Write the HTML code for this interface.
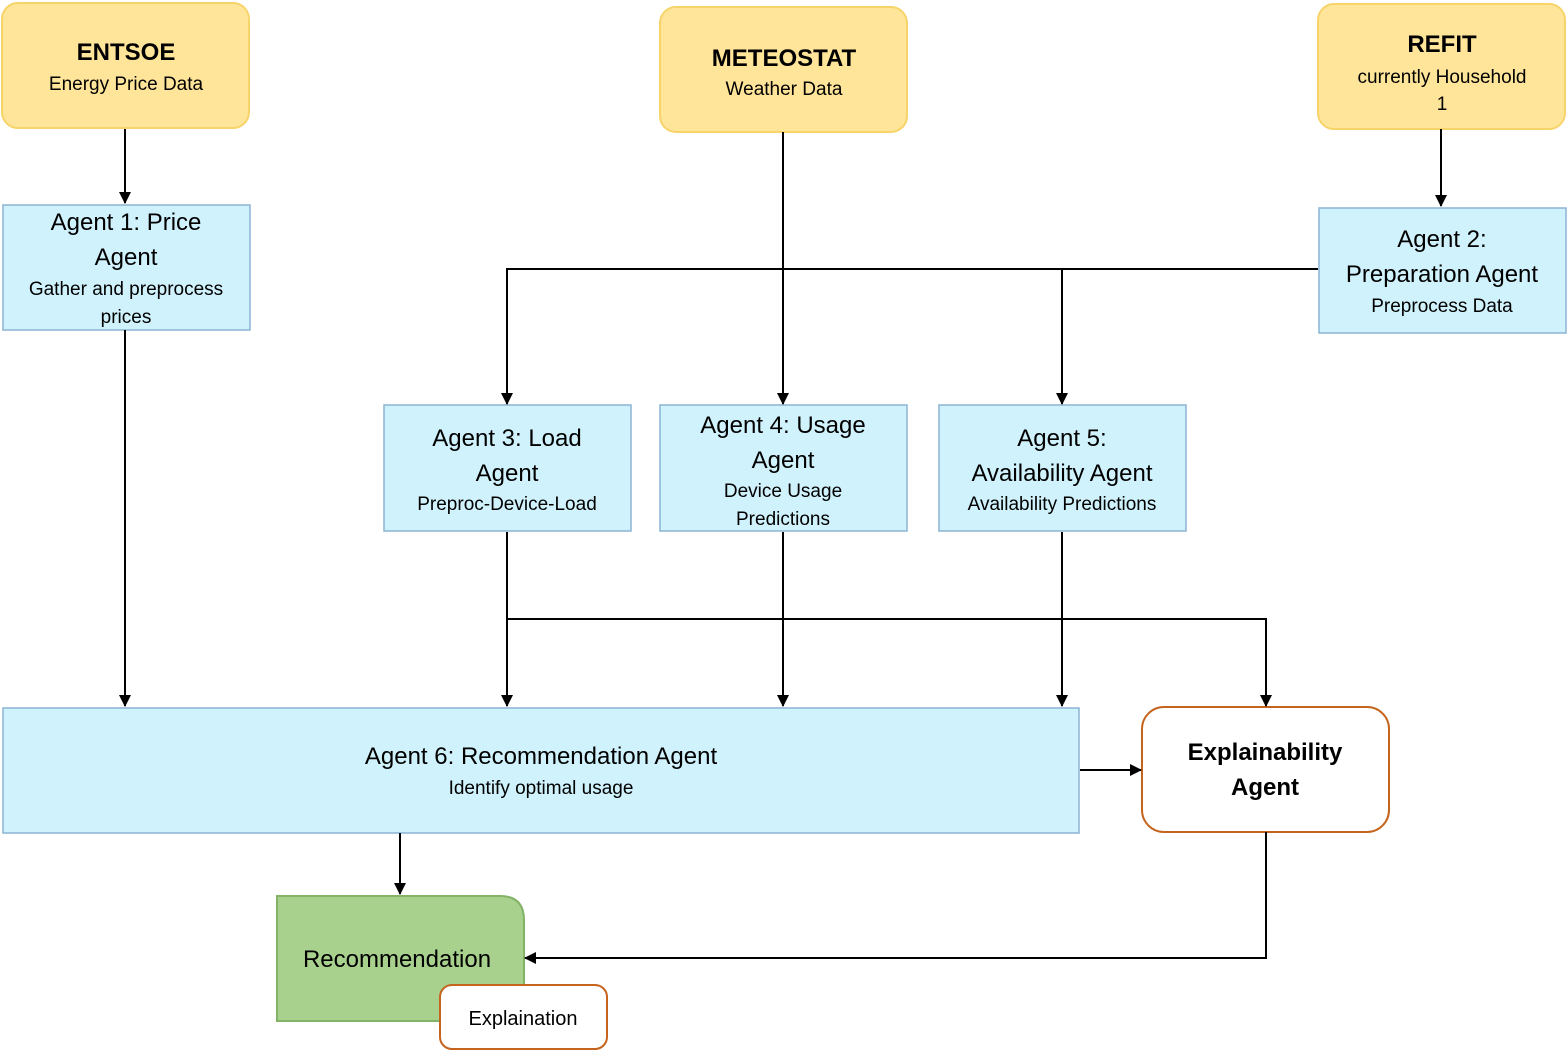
<!DOCTYPE html>
<html><head><meta charset="utf-8"><style>
html,body{margin:0;padding:0;background:#fff;}
svg{display:block;}
text{font-family:"Liberation Sans",sans-serif;fill:#000;text-anchor:middle;}
.t{font-size:24px;}
.s{font-size:19px;}
.b{font-weight:bold;font-size:24px;}
</style></head><body>
<svg width="1568" height="1052" viewBox="0 0 1568 1052" xmlns="http://www.w3.org/2000/svg">
<defs>
<marker id="a" markerWidth="12" markerHeight="12" refX="11" refY="6" orient="auto" markerUnits="userSpaceOnUse">
<path d="M0,0 L12,6 L0,12 z" fill="#000"/></marker>
</defs>
<g fill="#ffe599" stroke="#f7d46a" stroke-width="2">
<rect x="2" y="3" width="247" height="125" rx="16"/>
<rect x="660" y="7" width="247" height="125" rx="16"/>
<rect x="1318" y="4" width="247" height="125" rx="16"/>
</g>
<g fill="#d0f2fc" stroke="#8cb4d4" stroke-width="1.5">
<rect x="3" y="205" width="247" height="125"/>
<rect x="1319" y="208" width="247" height="125"/>
<rect x="384" y="405" width="247" height="126"/>
<rect x="660" y="405" width="247" height="126"/>
<rect x="939" y="405" width="247" height="126"/>
<rect x="3" y="708" width="1076" height="125"/>
</g>
<rect x="1142" y="707" width="247" height="125" rx="22" fill="#fff" stroke="#c5641e" stroke-width="2"/>
<path d="M277,896 H500 Q524,896 524,920 V1021 H277 Z" fill="#a9d18e" stroke="#82b366" stroke-width="2"/>
<rect x="440" y="985" width="167" height="64" rx="12" fill="#fff" stroke="#c5641e" stroke-width="2"/>

<g stroke="#000" stroke-width="2" fill="none">
<path d="M125,129 V203" marker-end="url(#a)"/>
<path d="M125,330 V706" marker-end="url(#a)"/>
<path d="M1441,129 V206" marker-end="url(#a)"/>
<path d="M783,132 V404" marker-end="url(#a)"/>
<path d="M1318,269 H507 V404" marker-end="url(#a)"/>
<path d="M1062,269 V404" marker-end="url(#a)"/>
<path d="M507,532 V706" marker-end="url(#a)"/>
<path d="M783,532 V706" marker-end="url(#a)"/>
<path d="M1062,532 V706" marker-end="url(#a)"/>
<path d="M507,619 H1266 V706" marker-end="url(#a)"/>
<path d="M1080,770 H1141" marker-end="url(#a)"/>
<path d="M400,833 V894" marker-end="url(#a)"/>
<path d="M1266,832 V958 H525" marker-end="url(#a)"/>
</g>

<text x="126" y="60" class="b">ENTSOE</text>
<text x="126" y="90" class="s">Energy Price Data</text>
<text x="784" y="66" class="b">METEOSTAT</text>
<text x="784" y="95" class="s">Weather Data</text>
<text x="1442" y="52" class="b">REFIT</text>
<text x="1442" y="83" class="s">currently Household</text>
<text x="1442" y="110" class="s">1</text>

<text x="126" y="230" class="t">Agent 1: Price</text>
<text x="126" y="265" class="t">Agent</text>
<text x="126" y="295" class="s">Gather and preprocess</text>
<text x="126" y="323" class="s">prices</text>

<text x="1442" y="247" class="t">Agent 2:</text>
<text x="1442" y="282" class="t">Preparation Agent</text>
<text x="1442" y="312" class="s">Preprocess Data</text>

<text x="507" y="446" class="t">Agent 3: Load</text>
<text x="507" y="481" class="t">Agent</text>
<text x="507" y="510" class="s">Preproc-Device-Load</text>

<text x="783" y="433" class="t">Agent 4: Usage</text>
<text x="783" y="468" class="t">Agent</text>
<text x="783" y="497" class="s">Device Usage</text>
<text x="783" y="525" class="s">Predictions</text>

<text x="1062" y="446" class="t">Agent 5:</text>
<text x="1062" y="481" class="t">Availability Agent</text>
<text x="1062" y="510" class="s">Availability Predictions</text>

<text x="541" y="764" class="t">Agent 6: Recommendation Agent</text>
<text x="541" y="794" class="s">Identify optimal usage</text>

<text x="1265" y="760" class="b">Explainability</text>
<text x="1265" y="795" class="b">Agent</text>

<text x="397" y="967" style="font-size:24px">Recommendation</text>
<text x="523" y="1025" style="font-size:20px">Explaination</text>
</svg>
</body></html>
